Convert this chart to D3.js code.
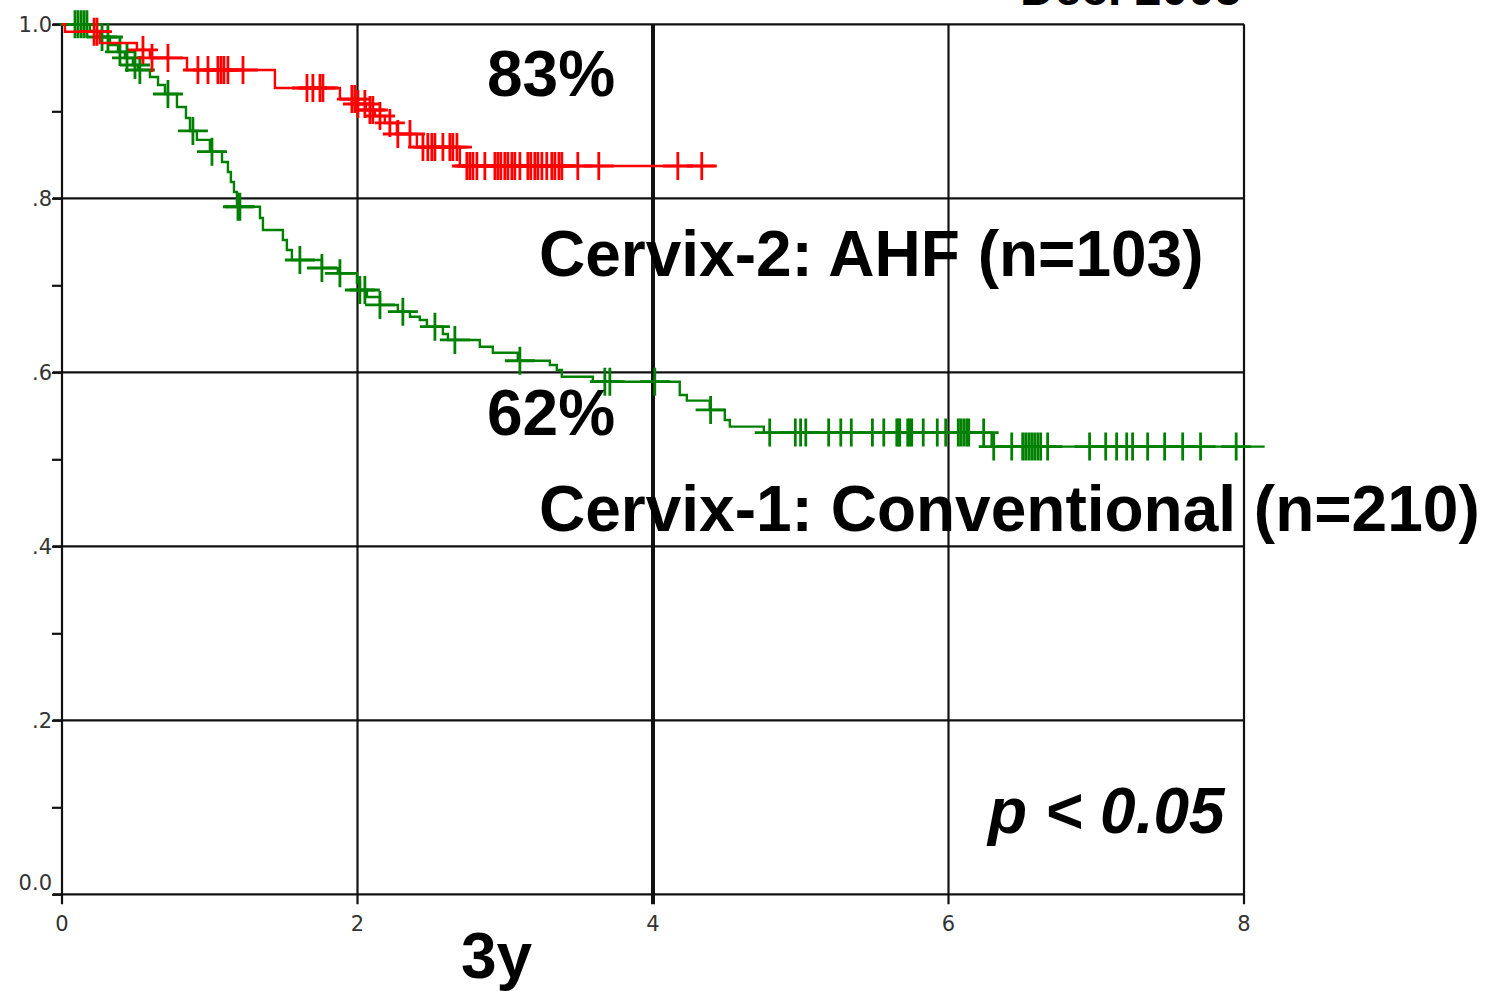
<!DOCTYPE html>
<html>
<head>
<meta charset="utf-8">
<script src="https://cdn.jsdelivr.net/npm/d3@7"></script>
<style>
  html, body { margin: 0; padding: 0; background: #fff; }
  svg { display: block; }
  .big { font-family: "Liberation Sans", Arial, sans-serif; font-weight: bold; fill: #000; }
  .tick-label { font-family: "DejaVu Sans", sans-serif; fill: #333; }
</style>
</head>
<body>
<svg id="chart" width="1497" height="991"></svg>
<script>
// ---------- DATA ----------
const yTickValues = [0, 0.2, 0.4, 0.6, 0.8, 1.0];
const yTickLabels = ["0.0", ".2", ".4", ".6", ".8", "1.0"];
const yMinorTicks = [0, 0.1, 0.2, 0.3, 0.4, 0.5, 0.6, 0.7, 0.8, 0.9, 1.0];
const xTickValues = [0, 2, 4, 6, 8];
const xTickLabels = ["0", "2", "4", "6", "8"];

// Cervix-2: AHF (n=103)  — step times (years) and survival after each step
const ahfTimes = [0, 0.02, 0.257, 0.507, 0.595, 0.846, 1.441, 1.881, 1.996, 2.057, 2.118, 2.185, 2.267, 2.402, 2.693];
const ahfSurv  = [1.0, 0.9915, 0.9785, 0.9705, 0.9613, 0.9475, 0.9268, 0.9141, 0.9084, 0.9015, 0.8946, 0.8866, 0.8739, 0.8589, 0.8371];
const ahfCensored = [0.217, 0.237, 0.548, 0.609, 0.717, 0.920, 0.988, 1.055, 1.076, 1.096, 1.123, 1.225,
  1.658, 1.698, 1.746, 1.766, 1.962, 1.982, 2.003, 2.050, 2.084, 2.104, 2.152, 2.219, 2.273, 2.355,
  2.443, 2.476, 2.503, 2.524, 2.578, 2.625, 2.645, 2.673, 2.740, 2.760, 2.781, 2.808, 2.862, 2.930,
  2.950, 2.970, 2.997, 3.018, 3.045, 3.065, 3.099, 3.153, 3.173, 3.200, 3.221, 3.248, 3.281, 3.315,
  3.336, 3.363, 3.383, 3.491, 3.633, 4.168, 4.330];
const ahfEnd = 4.42;

// Cervix-1: Conventional (n=210)
const convTimes = [0, 0.189, 0.257, 0.325, 0.379, 0.426, 0.480, 0.514, 0.595, 0.650, 0.697, 0.778, 0.839,
  0.866, 0.913, 1.001, 1.083, 1.123, 1.143, 1.164, 1.184, 1.340, 1.360, 1.495, 1.522, 1.556, 1.759,
  1.867, 1.996, 2.016, 2.064, 2.152, 2.273, 2.355, 2.422, 2.470, 2.578, 2.612, 2.828, 2.916, 3.085,
  3.302, 3.349, 3.383, 3.593, 4.181, 4.229, 4.384, 4.486, 4.520, 4.750, 6.292];
const convSurv = [1.0, 0.9923, 0.9854, 0.9762, 0.9682, 0.9613, 0.9532, 0.9475, 0.9394, 0.9302, 0.9199, 0.9049, 0.8923,
  0.8774, 0.8671, 0.8536, 0.8417, 0.8302, 0.8187, 0.8072, 0.7903, 0.7774, 0.7636, 0.7521, 0.7406, 0.7291, 0.7199,
  0.7138, 0.7026, 0.6946, 0.6866, 0.6774, 0.6697, 0.6639, 0.6601, 0.6524, 0.6440, 0.6372, 0.6294, 0.6225, 0.6133,
  0.6084, 0.6026, 0.5949, 0.5892, 0.5739, 0.5674, 0.5567, 0.5451, 0.5376, 0.5307, 0.5146];
const convCensored = [0.088, 0.108, 0.129, 0.149, 0.169, 0.271, 0.311, 0.392, 0.440, 0.494, 0.527,
  0.717, 0.886, 1.015, 1.191, 1.204, 1.610, 1.759, 1.881, 2.016, 2.050, 2.152, 2.307, 2.524, 2.659,
  3.099, 3.674, 3.708, 4.012, 4.390, 4.790, 4.963, 4.999, 5.034, 5.189, 5.271, 5.342, 5.485, 5.562,
  5.650, 5.660, 5.670, 5.724, 5.737, 5.751, 5.829, 5.924, 5.981, 6.066, 6.083, 6.103, 6.123, 6.137,
  6.238, 6.306, 6.428, 6.502, 6.522, 6.543, 6.563, 6.583, 6.604, 6.624, 6.671, 6.955, 7.064, 7.138,
  7.206, 7.246, 7.348, 7.463, 7.585, 7.706, 7.947];
const convEnd = 8.14;

const seriesNames = ["Cervix-2: AHF (n=103)", "Cervix-1: Conventional (n=210)"];
const seriesColors = ["#ff0000", "#008000"];
const rateLabels = ["83%", "62%"];

// ---------- CHART ----------
const svg = d3.select("#chart");
const x = d3.scaleLinear().domain([0, 8]).range([62, 1244]);
const y = d3.scaleLinear().domain([0, 1]).range([894.3, 24.3]);

// grid lines
const grid = svg.append("g");
grid.selectAll("line.h").data(yTickValues).join("line")
  .attr("x1", x(0) - 9).attr("x2", x(8))
  .attr("y1", d => y(d)).attr("y2", d => y(d))
  .attr("stroke", "#111").attr("stroke-width", 2.2);
grid.selectAll("line.v").data(xTickValues).join("line")
  .attr("x1", d => x(d)).attr("x2", d => x(d))
  .attr("y1", y(1)).attr("y2", y(0) + 10)
  .attr("stroke", "#111").attr("stroke-width", d => d === 4 ? 4 : 2.2);

// left axis minor ticks
const yAxis = d3.axisLeft(y).tickValues(yMinorTicks).tickSize(10).tickFormat("");
svg.append("g").attr("transform", `translate(${x(0)},0)`).call(yAxis)
  .call(g => g.select(".domain").remove())
  .call(g => g.selectAll(".tick line").attr("stroke", "#111").attr("stroke-width", 2.2));

// tick labels
svg.append("g").selectAll("text").data(yTickValues).join("text")
  .attr("class", "tick-label")
  .attr("x", 52)
  .attr("y", d => y(d) + (d === 0 ? -12 : 0))
  .attr("dy", "0.36em")
  .attr("text-anchor", "end")
  .attr("font-size", 21)
  .text((d, i) => yTickLabels[i]);
svg.append("g").selectAll("text").data(xTickValues).join("text")
  .attr("class", "tick-label")
  .attr("x", d => x(d))
  .attr("y", 931)
  .attr("text-anchor", "middle")
  .attr("font-size", 21)
  .text((d, i) => xTickLabels[i]);

// curves
function survAt(times, surv, t) {
  let s = surv[0];
  for (let i = 0; i < times.length; i++) { if (times[i] <= t) s = surv[i]; }
  return s;
}
const line = d3.line().x(d => x(d[0])).y(d => y(d[1])).curve(d3.curveStepAfter);
const series = [
  { times: ahfTimes, surv: ahfSurv, cens: ahfCensored, end: ahfEnd, color: seriesColors[0] },
  { times: convTimes, surv: convSurv, cens: convCensored, end: convEnd, color: seriesColors[1] }
];
// draw conventional first, AHF on top
[series[1], series[0]].forEach(s => {
  const pts = s.times.map((t, i) => [t, s.surv[i]]);
  pts.push([s.end, s.surv[s.surv.length - 1]]);
  const g = svg.append("g");
  g.append("path").datum(pts).attr("d", line)
    .attr("fill", "none").attr("stroke", s.color).attr("stroke-width", 2.4);
  g.selectAll("path.c").data(s.cens).join("path")
    .attr("d", t => {
      const cx = x(t), cy = y(survAt(s.times, s.surv, t));
      return `M${cx - 15},${cy}H${cx + 15}M${cx},${cy - 14}V${cy + 14}`;
    })
    .attr("fill", "none").attr("stroke", s.color).attr("stroke-width", 2.8);
});

// annotations
const big = svg.append("g");
big.append("text").attr("class", "big").attr("x", 487).attr("y", 96).attr("font-size", 64).text(rateLabels[0]);
big.append("text").attr("class", "big").attr("x", 487).attr("y", 435).attr("font-size", 64).text(rateLabels[1]);
big.append("text").attr("class", "big").attr("x", 539).attr("y", 276).attr("font-size", 64).text(seriesNames[0]);
big.append("text").attr("class", "big").attr("x", 539).attr("y", 531).attr("font-size", 64).text(seriesNames[1]);
big.append("text").attr("class", "big").attr("x", 988).attr("y", 833).attr("font-size", 64)
  .attr("font-style", "italic").text("p < 0.05");
big.append("text").attr("class", "big").attr("x", 461).attr("y", 978).attr("font-size", 64).text("3y");
big.append("text").attr("class", "big").attr("x", 1020).attr("y", 5).attr("font-size", 48).text("Dec. 2005");
</script>
</body>
</html>
